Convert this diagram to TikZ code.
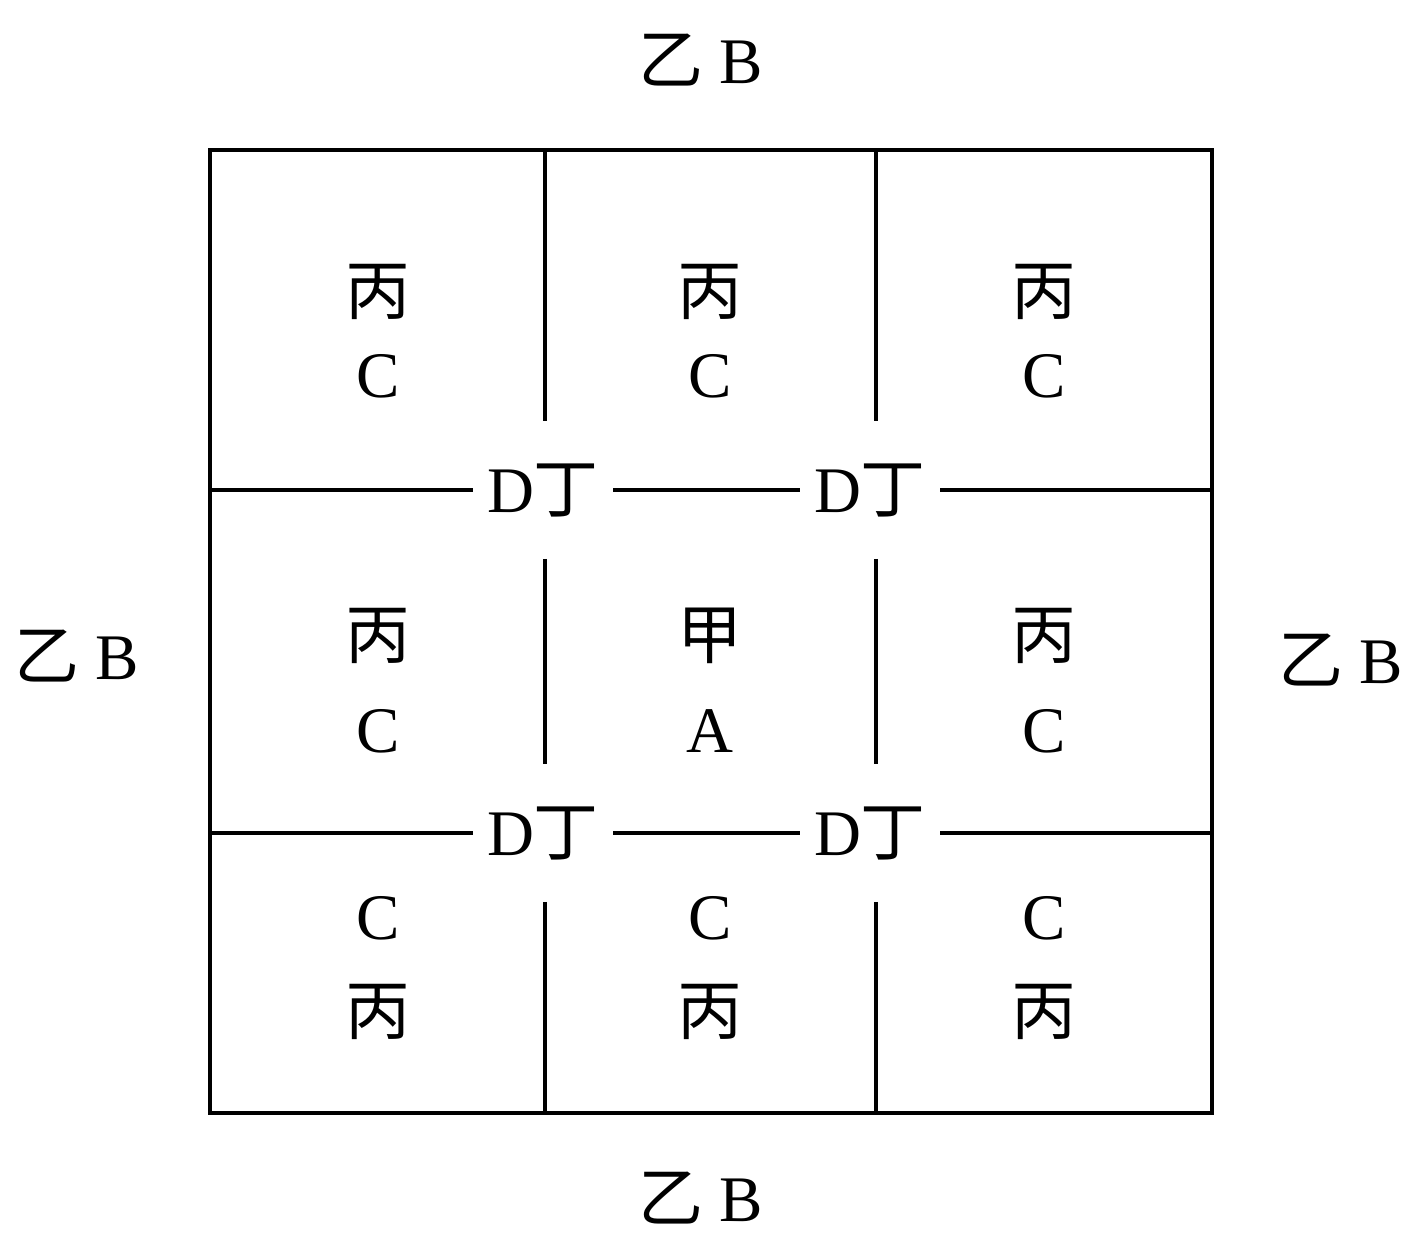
\documentclass[tikz,border=0pt]{standalone}
\usepackage{fontspec}
\setmainfont{Liberation Serif}
\newfontfamily\cjk{Noto Sans CJK SC}
\usetikzlibrary{positioning}

\begin{document}
\begin{tikzpicture}[
    x=0.02cm, y=-0.02cm,
    every node/.style={inner sep=0pt, font=\fontsize{37}{44}\selectfont},
    junction/.style={rectangle, minimum width=2.8cm, minimum height=2.74cm},
    gridline/.style={line width=2.4pt}
]
\useasboundingbox (0,0) rectangle (1406,1234);

% Outer square
\draw[gridline] (210,150) rectangle (1212,1113);

% Junctions
\node[junction] (j11) at (543,490) {D{\cjk 丁}};
\node[junction] (j12) at (870,490) {D{\cjk 丁}};
\node[junction] (j21) at (543,833) {D{\cjk 丁}};
\node[junction] (j22) at (870,833) {D{\cjk 丁}};

% Ends of the inner lines
\coordinate (l1) at (210,490);
\coordinate (r1) at (1212,490);
\coordinate (l2) at (210,833);
\coordinate (r2) at (1212,833);
\coordinate (t1) at (545,150);
\coordinate (b1) at (545,1113);
\coordinate (t2) at (876,150);
\coordinate (b2) at (876,1113);

% Inner lines
\draw[gridline] (l1) -- (j11) -- (j12) -- (r1);
\draw[gridline] (l2) -- (j21) -- (j22) -- (r2);
\draw[gridline] (t1) -- (j11.north -| t1);
\draw[gridline] (j11.south -| t1) -- (j21.north -| t1);
\draw[gridline] (j21.south -| t1) -- (b1);
\draw[gridline] (t2) -- (j12.north -| t2);
\draw[gridline] (j12.south -| t2) -- (j22.north -| t2);
\draw[gridline] (j22.south -| t2) -- (b2);

% Outer labels
\node (top) at (701,60) {{\cjk 乙} B};
\node (bottom) at (701,1198) {{\cjk 乙} B};
\node (left) at (77,656) {{\cjk 乙} B};
\node (right) at (1341,660) {{\cjk 乙} B};

% Top row
\node (c11a) at (378,292) {\cjk 丙};
\node (c11b) at (378,376) {C};
\node (c12a) at (710,292) {\cjk 丙};
\node (c12b) at (710,376) {C};
\node (c13a) at (1044,292) {\cjk 丙};
\node (c13b) at (1044,376) {C};

% Middle row
\node (c21a) at (378,636) {\cjk 丙};
\node (c21b) at (378,731) {C};
\node (c22a) at (710,636) {\cjk 甲};
\node (c22b) at (710,731) {A};
\node (c23a) at (1044,636) {\cjk 丙};
\node (c23b) at (1044,731) {C};

% Bottom row
\node (c31a) at (378,918) {C};
\node (c31b) at (378,1012) {\cjk 丙};
\node (c32a) at (710,918) {C};
\node (c32b) at (710,1012) {\cjk 丙};
\node (c33a) at (1044,918) {C};
\node (c33b) at (1044,1012) {\cjk 丙};

\end{tikzpicture}
\end{document}
